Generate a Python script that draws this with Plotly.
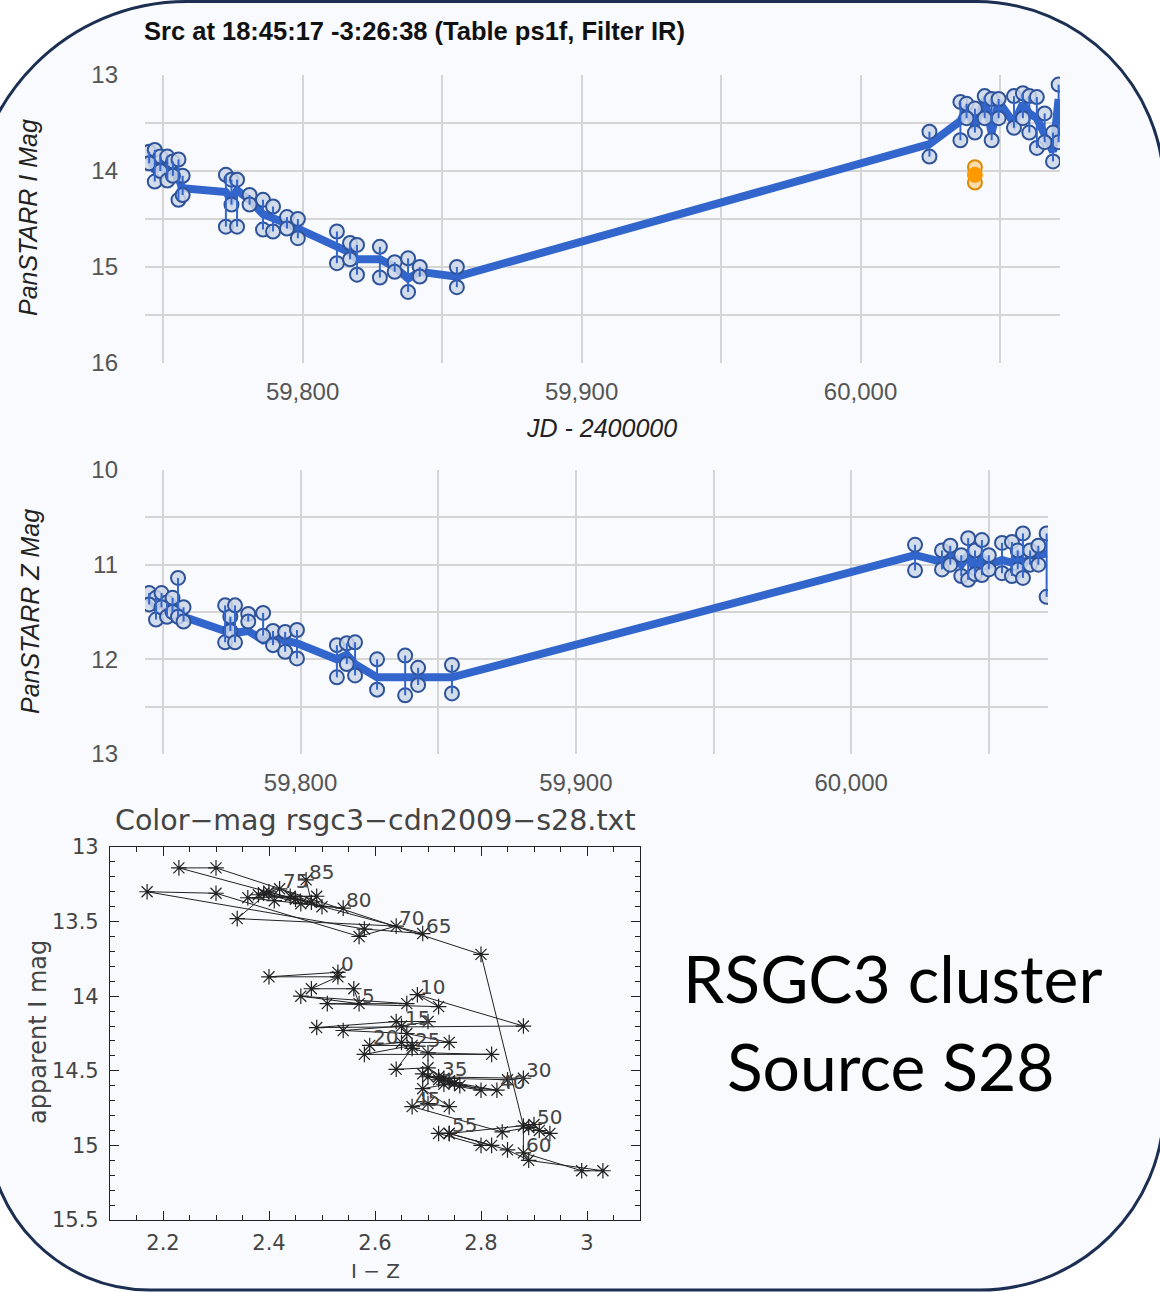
import plotly.graph_objects as go

W, H = 1160, 1292

# ---------------- Data ----------------
# Panel 1: PanSTARR I band light curve
i_jd = [59745.0, 59747.0, 59749.0, 59751.5, 59753.5, 59755.5, 59757.0, 59772.5, 59774.5, 59776.5,
        59781.0, 59785.8, 59789.4, 59794.4, 59798.3, 59812.3, 59817.0, 59819.5, 59827.7, 59833.0,
        59837.8, 59842.0, 59855.3, 60024.7, 60035.8, 60038.0, 60041.0, 60044.5, 60047.0, 60049.5,
        60055.0, 60058.2, 60060.5, 60063.2, 60066.0, 60069.0, 60071.0]
i_mag = [13.85, 14.00, 13.92, 14.05, 13.95, 14.10, 14.18, 14.22, 14.30, 14.20,
         14.30, 14.45, 14.50, 14.55, 14.60, 14.80, 14.85, 14.92, 14.92, 15.00,
         15.12, 15.05, 15.10, 13.72, 13.48, 13.35, 13.55, 13.25, 13.60, 13.28,
         13.50, 13.30, 13.40, 13.45, 13.60, 13.80, 13.25]
i_lo = [13.80, 13.78, 13.85, 13.85, 13.90, 13.88, 14.05, 14.04, 14.09, 14.09,
        14.25, 14.30, 14.37, 14.48, 14.50, 14.63, 14.75, 14.77, 14.79, 14.95,
        14.91, 15.00, 15.00, 13.59, 13.28, 13.30, 13.35, 13.22, 13.25, 13.25,
        13.22, 13.19, 13.22, 13.23, 13.40, 13.60, 13.10]
i_hi = [13.92, 14.11, 14.00, 14.10, 14.05, 14.30, 14.25, 14.58, 14.35, 14.58,
        14.35, 14.61, 14.63, 14.60, 14.70, 14.96, 14.92, 15.08, 15.11, 15.05,
        15.26, 15.10, 15.21, 13.85, 13.68, 13.45, 13.60, 13.45, 13.68, 13.45,
        13.55, 13.45, 13.60, 13.76, 13.70, 13.90, 13.70]
# flagged (orange) I point
o_jd = [60041.0]
o_mag = [14.04]
o_lo = [13.96]
o_hi = [14.12]

# Panel 2: PanSTARR Z band light curve
z_jd = [59745.0, 59747.5, 59749.5, 59751.5, 59753.5, 59755.5, 59757.5, 59772.6, 59774.5, 59776.2,
        59781.0, 59786.4, 59790.0, 59794.4, 59798.7, 59813.2, 59816.8, 59819.8, 59827.8, 59838.0,
        59842.7, 59855.0, 60023.2, 60033.0, 60036.0, 60040.0, 60042.5, 60045.0, 60047.5, 60050.0,
        60054.8, 60058.4, 60060.5, 60062.4, 60065.0, 60068.0, 60071.0]
z_mag = [11.35, 11.45, 11.38, 11.50, 11.40, 11.48, 11.55, 11.70, 11.62, 11.72,
         11.70, 11.80, 11.78, 11.80, 11.83, 12.00, 11.95, 12.05, 12.19, 12.19,
         12.19, 12.19, 10.90, 10.97, 10.90, 11.00, 10.90, 11.05, 10.92, 11.00,
         10.95, 10.98, 10.90, 11.00, 10.92, 10.90, 10.88]
z_lo = [11.30, 11.35, 11.30, 11.40, 11.35, 11.14, 11.45, 11.43, 11.55, 11.43,
        11.52, 11.51, 11.70, 11.71, 11.69, 11.85, 11.83, 11.82, 12.00, 11.96,
        12.09, 12.06, 10.79, 10.85, 10.80, 10.90, 10.72, 10.85, 10.74, 10.90,
        10.77, 10.76, 10.85, 10.67, 10.85, 10.80, 10.67]
z_hi = [11.42, 11.58, 11.45, 11.55, 11.50, 11.55, 11.60, 11.82, 11.70, 11.82,
        11.60, 11.75, 11.85, 11.92, 11.99, 12.19, 12.05, 12.17, 12.32, 12.38,
        12.27, 12.36, 11.06, 11.05, 11.00, 11.12, 11.16, 11.10, 11.11, 11.05,
        11.09, 11.12, 11.05, 11.14, 11.00, 11.00, 11.34]

# Panel 3: colour-magnitude track (I-Z vs I), in time order
cm_iz = [2.53, 2.40, 2.53, 2.48, 2.56, 2.57, 2.46, 2.66, 2.51, 2.72,
         2.68, 2.88, 2.49, 2.64, 2.70, 2.65, 2.54, 2.66, 2.74, 2.65,
         2.59, 2.67, 2.58, 2.82, 2.70, 2.67, 2.64, 2.70, 2.73, 2.85,
         2.88, 2.70, 2.75, 2.69, 2.72, 2.72, 2.74, 2.80, 2.73, 2.76,
         2.83, 2.75, 2.69, 2.74, 2.70, 2.67, 2.84, 2.89, 2.93, 2.91,
         2.90, 2.74, 2.72, 2.80, 2.82, 2.74, 2.85, 2.89, 3.03, 2.99,
         2.88, 2.88, 2.80, 2.30, 2.23, 2.69, 2.58, 2.17, 2.30, 2.57,
         2.64, 2.34, 2.40, 2.45, 2.38, 2.42, 2.50, 2.44, 2.49, 2.36,
         2.54, 2.41, 2.46, 2.39, 2.48, 2.47]
cm_i = [13.84, 13.87, 13.87, 13.95, 13.95, 14.05, 14.00, 14.05, 14.05, 14.07,
        13.99, 14.20, 14.21, 14.17, 14.17, 14.20, 14.23, 14.25, 14.31, 14.31,
        14.33, 14.33, 14.39, 14.39, 14.38, 14.35, 14.49, 14.48, 14.55, 14.56,
        14.55, 14.54, 14.58, 14.52, 14.56, 14.54, 14.57, 14.63, 14.59, 14.60,
        14.63, 14.58, 14.62, 14.74, 14.72, 14.74, 14.91, 14.88, 14.92, 14.90,
        14.86, 14.92, 14.92, 15.00, 15.00, 14.92, 15.03, 15.10, 15.17, 15.17,
        15.05, 14.87, 13.72, 13.14, 13.14, 13.58, 13.55, 13.30, 13.31, 13.60,
        13.53, 13.48, 13.30, 13.35, 13.32, 13.28, 13.40, 13.33, 13.33, 13.34,
        13.41, 13.36, 13.38, 13.31, 13.37, 13.22]

jd_range = [59743.5, 60071.5]
jd_grid = [59750, 59800, 59850, 59900, 59950, 60000, 60050]
jd_text = ["", "59,800", "", "59,900", "", "60,000", ""]
i_grid = [13, 13.5, 14, 14.5, 15, 15.5, 16]
i_text = ["13", "", "14", "", "15", "", "16"]
z_grid = [10, 10.5, 11, 11.5, 12, 12.5, 13]
z_text = ["10", "", "11", "", "12", "", "13"]

# ---------------- Helpers ----------------
def xp(x):
    return x / W

def yp(y):
    return 1 - y / H

BLUE = "#3366cc"
CIRC_FILL = "rgba(205,214,232,0.85)"
CIRC_EDGE = "#2f5399"
GRID = "#d5d5d5"
TICKC = "#555555"

fig = go.Figure()

def add_lightcurve(xa, ya, jd, mag, lo, hi):
    fig.add_trace(go.Scatter(x=jd, y=mag, mode="lines", line=dict(color=BLUE, width=8),
                             xaxis=xa, yaxis=ya, hoverinfo="skip"))
    cx = jd + jd
    cy = lo + hi
    fig.add_trace(go.Scatter(x=cx, y=cy, mode="markers",
                             marker=dict(size=14, color=CIRC_FILL, line=dict(color=CIRC_EDGE, width=2)),
                             xaxis=xa, yaxis=ya, hoverinfo="skip"))
    sx, sy = [], []
    for j, a, b in zip(jd, lo, hi):
        sx += [j, j, None]
        sy += [a, b, None]
    fig.add_trace(go.Scatter(x=sx, y=sy, mode="lines", line=dict(color=BLUE, width=2),
                             xaxis=xa, yaxis=ya, hoverinfo="skip"))

add_lightcurve("x", "y", i_jd, i_mag, i_lo, i_hi)
# orange flagged point
fig.add_trace(go.Scatter(x=o_jd + o_jd, y=o_lo + o_hi, mode="markers",
                         marker=dict(size=14, color="rgba(250,215,160,0.9)", line=dict(color="#d98a00", width=2)),
                         xaxis="x", yaxis="y", hoverinfo="skip"))
fig.add_trace(go.Scatter(x=o_jd, y=o_mag, mode="markers",
                         marker=dict(size=15, color="#ff9900", line=dict(color="#ff9900", width=1)),
                         xaxis="x", yaxis="y", hoverinfo="skip"))

add_lightcurve("x2", "y2", z_jd, z_mag, z_lo, z_hi)

# colour-magnitude track
fig.add_trace(go.Scatter(x=cm_iz, y=cm_i, mode="lines+markers",
                         line=dict(color="#222222", width=1),
                         marker=dict(symbol="asterisk-open", size=13, color="#222222",
                                     line=dict(color="#222222", width=1.2)),
                         xaxis="x3", yaxis="y3", hoverinfo="skip"))

# ---------------- Axes ----------------
lc_font = dict(family="Liberation Sans, Arial", size=24, color=TICKC)

def lc_xaxis(dom):
    return dict(domain=dom, range=jd_range, tickmode="array", tickvals=jd_grid, ticktext=jd_text,
                showgrid=True, gridcolor=GRID, gridwidth=2, zeroline=False, showline=False,
                ticks="", tickfont=lc_font, ticklabelstandoff=12, fixedrange=True)

def lc_yaxis(dom, rng, vals, txt, anchor):
    return dict(domain=dom, range=rng, tickmode="array", tickvals=vals, ticktext=txt,
                showgrid=True, gridcolor=GRID, gridwidth=2, zeroline=False, showline=False,
                ticks="", tickfont=lc_font, ticklabelstandoff=26, anchor=anchor)

idl_font = dict(family="DejaVu Sans", size=21, color="#444444")

fig.update_layout(
    width=W, height=H,
    margin=dict(l=0, r=0, t=0, b=0, pad=0, autoexpand=False),
    paper_bgcolor="white",
    plot_bgcolor="rgba(0,0,0,0)",
    showlegend=False,
    xaxis=dict(lc_xaxis([xp(145), xp(1060)]), anchor="y"),
    yaxis=lc_yaxis([yp(363), yp(75)], [16, 13], i_grid, i_text, "x"),
    xaxis2=dict(lc_xaxis([xp(145), xp(1048)]), anchor="y2"),
    yaxis2=lc_yaxis([yp(754), yp(470)], [13, 10], z_grid, z_text, "x2"),
    xaxis3=dict(domain=[xp(110), xp(640)], range=[2.1, 3.1], anchor="y3",
                tick0=2.0, dtick=0.2, ticks="inside", ticklen=9, tickwidth=1, tickcolor="#222",
                minor=dict(dtick=0.05, ticks="inside", ticklen=5, tickcolor="#222", tickwidth=1),
                showline=True, linecolor="#222", linewidth=1.2, mirror="allticks",
                showgrid=False, zeroline=False, tickfont=idl_font, ticklabelstandoff=4),
    yaxis3=dict(domain=[yp(1220), yp(847)], range=[15.5, 13], anchor="x3",
                tick0=13, dtick=0.5, ticks="inside", ticklen=9, tickwidth=1, tickcolor="#222",
                minor=dict(dtick=0.1, ticks="inside", ticklen=5, tickcolor="#222", tickwidth=1),
                showline=True, linecolor="#222", linewidth=1.2, mirror="allticks",
                showgrid=False, zeroline=False, tickfont=idl_font, ticklabelstandoff=6),
)

# ---------------- Slide frame ----------------
k = 0.5523
def P(x, y):
    return f"{xp(x):.5f},{yp(y):.5f}"

tl_c, tl_r = (187, 216.5), 215
tr_c, tr_r = (976, 189.5), 188
br_c, br_r = (980, 1106), 184
bl_c, bl_r = (150, 1128), 162

path = (
    f"M {P(tl_c[0]-tl_r, tl_c[1])} "
    f"C {P(tl_c[0]-tl_r, tl_c[1]-k*tl_r)} {P(tl_c[0]-k*tl_r, tl_c[1]-tl_r)} {P(tl_c[0], tl_c[1]-tl_r)} "
    f"L {P(tr_c[0], tr_c[1]-tr_r)} "
    f"C {P(tr_c[0]+k*tr_r, tr_c[1]-tr_r)} {P(tr_c[0]+tr_r, tr_c[1]-k*tr_r)} {P(tr_c[0]+tr_r, tr_c[1])} "
    f"L {P(br_c[0]+br_r, br_c[1])} "
    f"C {P(br_c[0]+br_r, br_c[1]+k*br_r)} {P(br_c[0]+k*br_r, br_c[1]+br_r)} {P(br_c[0], br_c[1]+br_r)} "
    f"L {P(bl_c[0], bl_c[1]+bl_r)} "
    f"C {P(bl_c[0]-k*bl_r, bl_c[1]+bl_r)} {P(bl_c[0]-bl_r, bl_c[1]+k*bl_r)} {P(bl_c[0]-bl_r, bl_c[1])} "
    f"Z"
)
fig.add_shape(type="path", path=path, xref="paper", yref="paper",
              fillcolor="#f8fafd", line=dict(color="#1c2f52", width=3), layer="below")

# ---------------- Text ----------------
def ann(text, x, y, size, color="#222", family="Liberation Sans, Arial", angle=0,
        xanchor="center", yanchor="middle", **kw):
    fig.add_annotation(text=text, x=xp(x), y=yp(y), xref="paper", yref="paper", showarrow=False,
                       font=dict(size=size, color=color, family=family), textangle=angle,
                       xanchor=xanchor, yanchor=yanchor, **kw)

ann("<b>Src at 18:45:17 -3:26:38 (Table ps1f, Filter IR)</b>", 142, 31, 25.5, color="#111", xanchor="left")
ann("<i>JD - 2400000</i>", 601, 428, 25)
ann("<i>PanSTARR I Mag</i>", 28, 218, 25, angle=-90)
ann("<i>PanSTARR Z Mag</i>", 30, 612, 25, angle=-90)

ann("Color−mag rsgc3−cdn2009−s28.txt", 375, 820, 28.5, color="#444", family="DejaVu Sans")
ann("I − Z", 375, 1271, 20, color="#444", family="DejaVu Sans")
ann("apparent I mag", 38, 1032, 24, color="#444", family="DejaVu Sans", angle=-90)

ann("RSGC3 cluster", 892, 977, 66, color="#000", family="Lato")
ann("Source S28", 891, 1065, 66, color="#000", family="Lato")

# index labels on the colour-magnitude track
for idx in range(0, len(cm_iz), 5):
    fig.add_annotation(text=str(idx), x=cm_iz[idx], y=cm_i[idx], xref="x3", yref="y3",
                       showarrow=False, xanchor="left", yanchor="bottom", xshift=1, yshift=-6,
                       font=dict(size=20, color="#444", family="DejaVu Sans"))

fig.write_html("out.html")
